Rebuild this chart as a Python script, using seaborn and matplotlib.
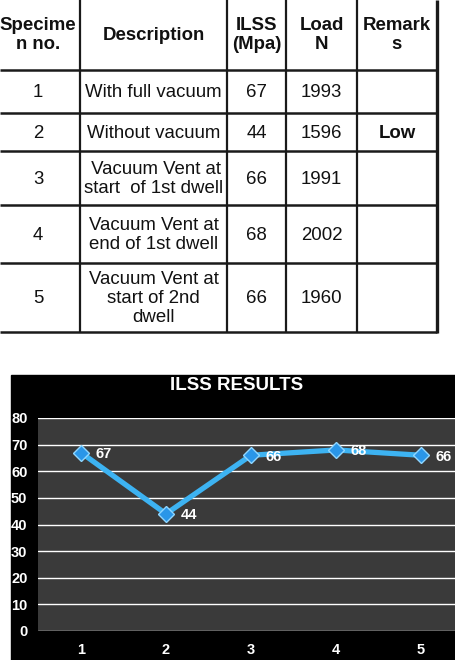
import matplotlib
matplotlib.use("Agg")
import matplotlib.pyplot as plt
from matplotlib.patches import Rectangle
import seaborn as sns
import pandas as pd

# ---- data ----
header = ["Specime\nn no.", "Description", "ILSS\n(Mpa)", "Load\nN", "Remark\ns"]
specimen = [1, 2, 3, 4, 5]
descriptions = ["With full vacuum", "Without vacuum", " Vacuum Vent at\nstart  of 1st dwell",
                "Vacuum Vent at\nend of 1st dwell", "Vacuum Vent at\nstart of 2nd\ndwell"]
ilss = [67, 44, 66, 68, 66]
load = [1993, 1596, 1991, 2002, 1960]
remarks = ["", "Low", "", "", ""]
yticks = [0, 10, 20, 30, 40, 50, 60, 70, 80]
chart_title = "ILSS RESULTS"

sns.set_style("dark")
plt.rcParams['font.family'] = ['Liberation Sans', 'DejaVu Sans']

W, H = 456, 660
fig = plt.figure(figsize=(W / 100, H / 100), dpi=100)
fig.patch.set_facecolor("white")

# ---- table (pixel coordinate overlay) ----
tax = fig.add_axes([0, 0, 1, 1])
tax.set_xlim(0, W)
tax.set_ylim(H, 0)
tax.axis("off")
tax.patch.set_visible(False)

col_edges = [-4, 80, 227, 286, 357, 437]
row_edges = [0, 70, 113, 151, 205, 263, 332]
lc = "#1a1a1a"
for x in col_edges[1:-1]:
    tax.plot([x, x], [0, row_edges[-1]], color=lc, lw=1.6, solid_capstyle="butt")
tax.plot([col_edges[-1], col_edges[-1]], [0, row_edges[-1] + 1], color=lc, lw=2.4, solid_capstyle="butt")
for y in row_edges[1:]:
    tax.plot([0, col_edges[-1]], [y, y], color=lc, lw=1.8, solid_capstyle="butt")

def cell_center(ci, ri):
    return ((col_edges[ci] + col_edges[ci + 1]) / 2, (row_edges[ri] + row_edges[ri + 1]) / 2)

fs = 13.4
for ci, h in enumerate(header):
    cx, cy = cell_center(ci, 0)
    tax.text(cx, cy, h, ha="center", va="center", fontsize=fs, fontweight="bold",
             linespacing=1.15, color="#111111")

for ri in range(len(specimen)):
    vals = [str(specimen[ri]), descriptions[ri], str(ilss[ri]), str(load[ri]), remarks[ri]]
    for ci, v in enumerate(vals):
        cx, cy = cell_center(ci, ri + 1)
        tax.text(cx, cy + 1, v, ha="center", va="center", fontsize=fs,
                 fontweight="bold" if ci == 4 else "normal",
                 linespacing=1.12, color="#111111")

# ---- chart background ----
fig.patches.append(Rectangle((11 / W, 0), (W - 11) / W, (H - 375) / H,
                             transform=fig.transFigure, color="black", zorder=-1))

left_px, right_px, top_px, bot_px = 38.5, 463.5, 418, 631
ax = fig.add_axes([left_px / W, 1 - bot_px / H, (right_px - left_px) / W, (bot_px - top_px) / H])
ax.set_facecolor("#3a3a3a")

df = pd.DataFrame({"Specimen": specimen, "ILSS": ilss})
sns.lineplot(data=df, x="Specimen", y="ILSS", ax=ax, color="#3db3f2", lw=3.8,
             marker="D", markersize=8.5, markerfacecolor="#2a96e8",
             markeredgecolor="#8fd6ff", markeredgewidth=1.0, zorder=3)

cfam = ['Liberation Sans', 'DejaVu Sans']
for x, y in zip(specimen, ilss):
    ax.annotate(str(y), (x, y), xytext=(10.5, -1), textcoords="offset points",
                ha="left", va="center", color="white", fontsize=10.5,
                fontweight="bold", family=cfam, zorder=4)

ax.set_xlim(0.5, 5.5)
ax.set_ylim(0, 80)
ax.set_yticks(yticks)
ax.set_xticks(specimen)
ax.grid(axis="y", color="white", lw=1.0)
ax.grid(axis="x", visible=False)
for s in ax.spines.values():
    s.set_visible(False)
ax.tick_params(axis="both", length=0, colors="white")
ax.tick_params(axis="y", pad=8)
ax.tick_params(axis="x", pad=9)
for lab in ax.get_xticklabels() + ax.get_yticklabels():
    lab.set_family(cfam)
    lab.set_fontweight("bold")
    lab.set_fontsize(10.5)
    lab.set_color("white")
ax.set_xlabel("")
ax.set_ylabel("")

fig.text(237 / W, 1 - 385 / H, chart_title, ha="center", va="center", color="white",
         fontsize=13.5, fontweight="bold", family=cfam)

fig.savefig("out.png", dpi=100)
